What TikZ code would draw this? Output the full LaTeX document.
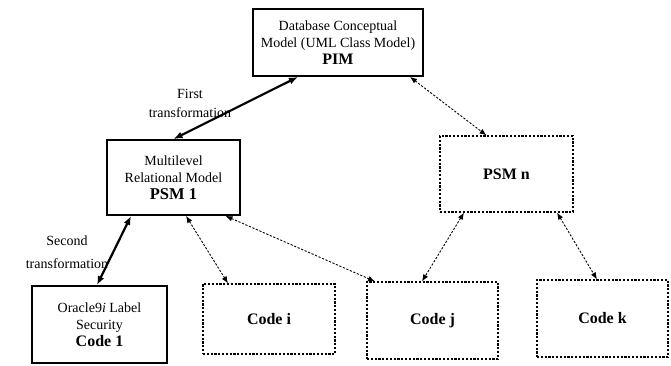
\documentclass[tikz,border=0pt]{standalone}
\usepackage{fontspec}
\setmainfont{Liberation Serif}
\usetikzlibrary{arrows.meta}
\begin{document}
\begin{tikzpicture}[x=1pt,y=-1pt,
  solidbox/.style={draw=black,line width=1.8pt,rectangle,align=center,inner sep=0pt,
    font=\fontsize{14}{17}\selectfont},
  dotbox/.style={draw=black,line width=1.1pt,dash pattern=on 2.2pt off 1.6pt,rectangle,align=center,inner sep=0pt,
    font=\fontsize{16}{18}\selectfont\bfseries},
  strong/.style={line width=2.2pt,{Latex[length=9pt,width=7pt]}-{Latex[length=9pt,width=7pt]}},
  weak/.style={line width=0.9pt,dash pattern=on 2.2pt off 1.6pt,{Latex[length=7pt,width=5.5pt]}-{Latex[length=7pt,width=5.5pt]}},
  lbl/.style={align=center,inner sep=0pt,font=\fontsize{14}{19}\selectfont}]
\useasboundingbox (0,0) rectangle (671,366);
\fill[white] (0,0) rectangle (671,366);
\node[solidbox,minimum width=170pt,minimum height=67pt] (pim) at (338,42.5)
  {Database Conceptual\\Model (UML Class Model)\\{\fontsize{16}{18}\selectfont\bfseries PIM}};
\node[solidbox,minimum width=133pt,minimum height=75pt] (psm1) at (173.5,177.5)
  {Multilevel\\Relational Model\\{\fontsize{16.5}{18}\selectfont\bfseries PSM 1}};
\node[solidbox,minimum width=135pt,minimum height=77pt] (code1) at (99.5,324.5)
  {Oracle9\textit{i} Label\\Security\\{\fontsize{16}{18}\selectfont\bfseries Code 1}};
\node[dotbox,minimum width=132pt,minimum height=70pt] (codei) at (269,319) {Code i};
\node[dotbox,minimum width=133pt,minimum height=76pt] (psmn) at (506.5,174) {PSM n};
\node[dotbox,minimum width=131pt,minimum height=77pt] (codej) at (432.5,320.5) {Code j};
\node[dotbox,minimum width=131pt,minimum height=77pt] (codek) at (602.5,318.5) {Code k};
\node[lbl] (l1) at (190,103) {First\\transformation};
\node[lbl,font=\fontsize{14}{23}\selectfont] (l2) at (67,252) {Second\\transformation};
\draw[strong] ([xshift=-40pt]pim.south) -- (psm1.north);
\draw[weak] ([xshift=72pt]pim.south) -- ([xshift=-20pt]psmn.north);
\draw[strong] ([xshift=-42.5pt]psm1.south) -- ([xshift=-2.5pt]code1.north);
\draw[weak] ([xshift=12.5pt]psm1.south) -- ([xshift=-41pt]codei.north);
\draw[weak] ([xshift=52pt]psm1.south) -- ([xshift=-57.5pt]codej.north);
\draw[weak] ([xshift=-42.5pt]psmn.south) -- ([xshift=-10.5pt]codej.north);
\draw[weak] ([xshift=50.5pt]psmn.south) -- ([xshift=-5.5pt]codek.north);
\end{tikzpicture}
\end{document}
